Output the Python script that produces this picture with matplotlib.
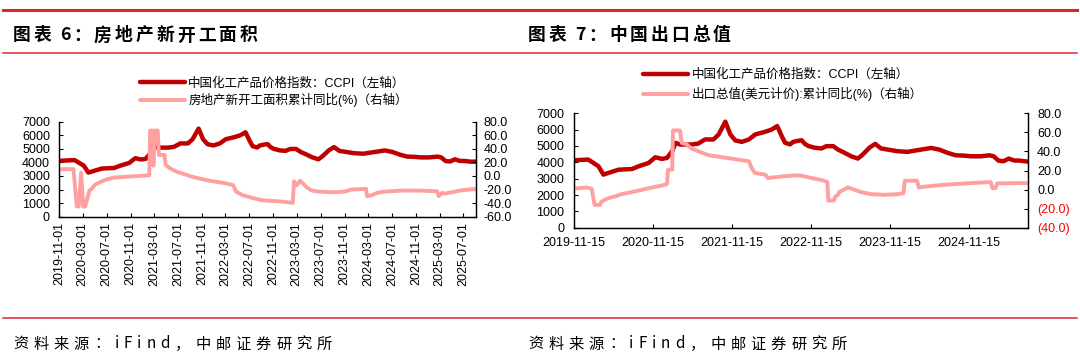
import matplotlib
matplotlib.use('Agg')
import matplotlib.pyplot as plt
import matplotlib.dates as mdates
import pandas as pd
from matplotlib.lines import Line2D

W, H = 1080, 361
CN = 'Noto Sans CJK SC'
LAT = 'Liberation Sans'
plt.rcParams['font.family'] = [LAT, CN]

# ---------------- data ----------------
ccpi_dates = ['2019-11-01', '2019-11-15', '2020-01-20', '2020-03-07', '2020-03-30', '2020-04-22',
              '2020-06-08', '2020-08-09', '2020-09-09', '2020-10-25', '2020-11-25', '2020-12-26',
              '2021-01-18', '2021-02-11', '2021-02-27', '2021-03-20', '2021-05-12', '2021-06-12',
              '2021-07-13', '2021-08-21', '2021-09-14', '2021-10-15', '2021-11-07', '2021-11-30',
              '2021-12-30', '2022-02-01', '2022-03-03', '2022-04-18', '2022-05-18', '2022-06-12',
              '2022-07-03', '2022-07-18', '2022-08-10', '2022-08-25', '2022-09-10', '2022-10-03',
              '2022-10-18', '2022-11-03', '2022-12-03', '2023-01-03', '2023-01-26', '2023-02-26',
              '2023-03-20', '2023-04-20', '2023-05-20', '2023-06-20', '2023-07-12', '2023-08-12',
              '2023-09-08', '2023-10-05', '2023-11-05', '2023-12-20', '2024-02-05', '2024-03-20',
              '2024-05-24', '2024-06-30', '2024-08-08', '2024-09-15', '2024-10-24', '2024-11-24',
              '2025-01-08', '2025-02-18', '2025-03-09', '2025-04-01', '2025-04-24', '2025-05-18',
              '2025-06-12', '2025-07-03', '2025-08-10', '2025-09-05']
ccpi_values = [4120, 4126, 4170, 3760, 3250, 3350,
               3550, 3590, 3760, 3960, 4310, 4210,
               4270, 4680, 5190, 5090, 5090, 5150,
               5400, 5400, 5700, 6490, 5710, 5340,
               5250, 5400, 5710, 5870, 6010, 6220,
               5600, 5200, 5100, 5250, 5300, 5350,
               5130, 5000, 4890, 4850, 4990, 4990,
               4780, 4580, 4370, 4230, 4470, 4890,
               5130, 4850, 4780, 4680, 4640, 4740,
               4880, 4780, 4580, 4430, 4410, 4370,
               4370, 4430, 4370, 4100, 4070, 4230,
               4110, 4110, 4050, 4060]

starts_dates = ['2019-11-01', '2020-01-14', '2020-01-31', '2020-02-10', '2020-02-22', '2020-03-04',
                '2020-03-14', '2020-04-04', '2020-04-16', '2020-05-03', '2020-05-29', '2020-07-02',
                '2020-08-06', '2020-10-14', '2021-02-05', '2021-02-09', '2021-02-19', '2021-02-26',
                '2021-03-06', '2021-03-20', '2021-03-26', '2021-04-23', '2021-04-30', '2021-05-24',
                '2021-06-28', '2021-08-01', '2021-09-04', '2021-10-10', '2021-11-13', '2021-12-16',
                '2022-01-19', '2022-03-10', '2022-04-10', '2022-04-25', '2022-05-28', '2022-07-10',
                '2022-09-01', '2022-10-19', '2022-12-28', '2023-02-09', '2023-02-15', '2023-02-28',
                '2023-03-19', '2023-04-18', '2023-05-13', '2023-06-16', '2023-09-12', '2023-11-01',
                '2023-12-06', '2024-02-19', '2024-02-23', '2024-03-17', '2024-04-21', '2024-05-25',
                '2024-08-19', '2024-11-13', '2025-02-16', '2025-02-24', '2025-03-13', '2025-03-28',
                '2025-05-01', '2025-06-22', '2025-09-05']
starts_yoy = [10, 10, -45, -45, 5, -45,
              -45, -22, -19, -13, -9, -5,
              -2.5, -1, 1, 67, 67, 15,
              67, 67, 31, 31, 16, 11,
              6, 3, -0.5, -3, -5.4, -7.3,
              -8.8, -11.2, -13.6, -23, -28.3, -31.7,
              -35.6, -36.6, -38, -39.5, -7.8, -14,
              -7, -16, -21, -23, -24, -23,
              -20, -19, -29.7, -28.5, -24.4, -23,
              -21.5, -21.5, -22.5, -29.7, -25, -25.8,
              -24, -21, -19]

export_dates = ['2019-11-15', '2020-01-12', '2020-02-05', '2020-02-18', '2020-03-14', '2020-03-21',
                '2020-04-22', '2020-05-22', '2020-06-22', '2020-08-08', '2020-09-24', '2020-11-09',
                '2020-12-26', '2021-01-18', '2021-01-23', '2021-02-11', '2021-02-15', '2021-03-19',
                '2021-03-27', '2021-04-20', '2021-05-12', '2021-06-12', '2021-07-30', '2021-09-30',
                '2021-12-15', '2022-02-01', '2022-02-10', '2022-02-28', '2022-04-18', '2022-04-30',
                '2022-07-03', '2022-09-05', '2022-10-03', '2022-11-18', '2023-01-03', '2023-01-30',
                '2023-02-03', '2023-03-01', '2023-03-08', '2023-03-20', '2023-03-25', '2023-05-05',
                '2023-06-05', '2023-07-05', '2023-08-20', '2023-10-20', '2023-12-20', '2024-01-17',
                '2024-01-23', '2024-03-20', '2024-03-28', '2024-05-05', '2024-07-20', '2024-11-24',
                '2025-02-24', '2025-03-03', '2025-03-18', '2025-03-25', '2025-07-03', '2025-08-15']
export_yoy = [1.0, 2.2, 0.8, -16.1, -16.1, -12.6,
              -9.0, -7.3, -4.8, -2.7, -0.2, 2.2,
              4.3, 5.7, 20.9, 20.9, 62, 62,
              49, 47.3, 43, 40.2, 36, 33.9,
              31.4, 29.7, 24.4, 17.4, 15.6, 12.1,
              13.8, 14.9, 14.5, 12.1, 10, 7.9,
              -11.5, -11.5, -7.3, -5.5, -2.7, 2.2,
              -0.2, -2.7, -4.8, -5.5, -4.8, -3.8,
              9.3, 9.3, 2.2, 3.3, 5.0, 6.8,
              7.9, 1.5, 1.5, 6.5, 6.8, 6.8]

left_xticks = pd.date_range('2019-11-01', '2025-07-01', freq='4MS')
right_xticks = pd.to_datetime(['2019-11-15', '2020-11-15', '2021-11-15',
                               '2022-11-15', '2023-11-15', '2024-11-15'])

ccpi_label = '中国化工产品价格指数：CCPI（左轴）'
starts_label = '房地产新开工面积累计同比(%)（右轴）'
export_label = '出口总值(美元计价):累计同比(%)（右轴）'

left_title = '图表 6：房地产新开工面积'
right_title = '图表 7：中国出口总值'
source_text = '资料来源：iFind，中邮证券研究所'

# ---------------- styles ----------------
DARK = '#C00000'
PINK = '#FFA0A0'
RULE = '#D9262C'

fig = plt.figure(figsize=(10.8, 3.61), dpi=100)
fig.patch.set_facecolor('white')


def fx(px):
    return px / W


def fy(py):
    return 1 - py / H


for y, lw in [(10, 2.2), (52.5, 1.1), (318, 1.1)]:
    fig.add_artist(Line2D([fx(3), fx(1077)], [fy(y), fy(y)], color=RULE, lw=lw))

renderer = fig.canvas.get_renderer()


def spaced(x_px, base_px, s, size, gap, weight='normal'):
    x = x_px
    for ch in s:
        if ch == ' ':
            x += size * 100 / 72 * 0.3
            continue
        t = fig.text(fx(x), fy(base_px), ch, fontsize=size, fontweight=weight,
                     family=[CN], ha='left', va='baseline', color='black')
        w = t.get_window_extent(renderer=renderer).width
        x += w + gap


spaced(13, 40.5, left_title, 12.8, 3.0, weight='bold')
spaced(528, 40.5, right_title, 12.8, 3.0, weight='bold')
spaced(13, 348.5, source_text, 11, 5.0)
spaced(528, 348.5, source_text, 11, 5.0)

cd = pd.to_datetime(ccpi_dates)
sd = pd.to_datetime(starts_dates)
ed = pd.to_datetime(export_dates)


def style(ax, axr):
    for a in (ax, axr):
        a.spines['top'].set_visible(False)
        for sp in ('left', 'right', 'bottom'):
            a.spines[sp].set_linewidth(0.9)
        a.patch.set_visible(False)
    ax.tick_params(axis='both', direction='in', length=3, width=0.8, labelsize=9)
    axr.tick_params(axis='y', direction='in', length=3, width=0.8, labelsize=9)


# ---------------- left chart ----------------
ax1 = fig.add_axes([fx(59), fy(216.7), 417 / W, 95 / H])
ax1r = ax1.twinx()
style(ax1, ax1r)
l1, = ax1.plot(cd, ccpi_values, color=DARK, lw=3.2, solid_joinstyle='round', solid_capstyle='round')
l2, = ax1r.plot(sd, starts_yoy, color=PINK, lw=2.8, solid_joinstyle='round', solid_capstyle='round')
ax1.set_ylim(0, 7000)
ax1.set_yticks(range(0, 7001, 1000))
ax1r.set_ylim(-60, 80)
rt = list(range(-60, 81, 20))
ax1r.set_yticks(rt)
ax1r.set_yticklabels([f'{v:.1f}' for v in rt])
ax1.set_xlim(pd.Timestamp('2019-11-01'), pd.Timestamp('2025-09-03'))
ax1.set_xticks(left_xticks)
ax1.set_xticklabels([d.strftime('%Y-%m-%d') for d in left_xticks], rotation=90)
ax1.tick_params(axis='y', pad=6.5)
ax1r.tick_params(axis='y', pad=5.5)
ax1.tick_params(axis='x', pad=4)

fig.legend([l1, l2], [ccpi_label, starts_label], loc='center left',
           bbox_to_anchor=(fx(139.5), fy(92)), frameon=False, borderpad=0, borderaxespad=0,
           handlelength=3.6, handletextpad=0.3, labelspacing=0.28,
           prop={'family': [LAT, CN], 'size': 9})

# ---------------- right chart ----------------
ax2 = fig.add_axes([fx(574), fy(227.7), 454 / W, 114.4 / H])
ax2r = ax2.twinx()
style(ax2, ax2r)
r1, = ax2.plot(cd, ccpi_values, color=DARK, lw=3.2, solid_joinstyle='round', solid_capstyle='round')
r2, = ax2r.plot(ed, export_yoy, color=PINK, lw=2.8, solid_joinstyle='round', solid_capstyle='round')
ax2.set_ylim(0, 7000)
ax2.set_yticks(range(0, 7001, 1000))
ax2r.set_ylim(-40, 80)
rt2 = list(range(-40, 81, 20))
ax2r.set_yticks(rt2)
ax2r.set_yticklabels([f'({abs(v):.1f})' if v < 0 else f'{v:.1f}' for v in rt2])
for lab, v in zip(ax2r.get_yticklabels(), rt2):
    if v < 0:
        lab.set_color('#FF0000')
ax2.set_xlim(pd.Timestamp('2019-11-15'), pd.Timestamp('2025-08-15'))
ax2.set_xticks(right_xticks)
ax2.set_xticklabels([d.strftime('%Y-%m-%d') for d in right_xticks])
ax2.tick_params(axis='y', pad=7)
ax2r.tick_params(axis='y', pad=6.5)
ax2.tick_params(axis='x', pad=6.5)

fig.legend([r1, r2], [ccpi_label, export_label], loc='center left',
           bbox_to_anchor=(fx(643), fy(85)), frameon=False, borderpad=0, borderaxespad=0,
           handlelength=3.6, handletextpad=0.3, labelspacing=0.5,
           prop={'family': [LAT, CN], 'size': 9})

fig.savefig('out.png', dpi=100, facecolor='white')
